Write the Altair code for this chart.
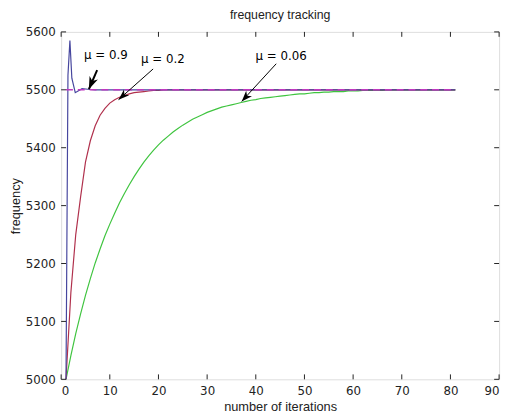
import altair as alt
import pandas as pd

# ---- data ----
iterations = list(range(1, 82))

red_y = [5000, 5150, 5250, 5315, 5375, 5412, 5438, 5456, 5468, 5477,
         5483, 5487, 5490, 5493, 5495, 5496, 5497, 5498, 5499, 5499,
         5500, 5500, 5500, 5500, 5500, 5500, 5500, 5500, 5500, 5500,
         5500, 5500, 5500, 5500, 5500, 5500, 5500, 5500, 5500, 5500,
         5500, 5500, 5500, 5500, 5500, 5500, 5500, 5500, 5500, 5500,
         5500, 5500, 5500, 5500, 5500, 5500, 5500, 5500, 5500, 5500,
         5500, 5500, 5500, 5500, 5500, 5500, 5500, 5500, 5500, 5500,
         5500, 5500, 5500, 5500, 5500, 5500, 5500, 5500, 5500, 5500,
         5500]

green_y = [5000, 5041, 5079, 5113, 5145, 5174, 5201, 5225, 5248, 5268,
           5287, 5305, 5321, 5336, 5350, 5363, 5375, 5386, 5396, 5405,
           5413, 5420, 5427, 5433, 5439, 5444, 5449, 5453, 5457, 5461,
           5464, 5467, 5470, 5472, 5474, 5476, 5478, 5480, 5482, 5483,
           5485, 5486, 5487, 5488, 5489, 5490, 5491, 5492, 5493, 5493,
           5494, 5495, 5495, 5496, 5496, 5497, 5497, 5497, 5498, 5498,
           5498, 5499, 5499, 5499, 5499, 5499, 5500, 5500, 5500, 5500,
           5500, 5500, 5500, 5500, 5500, 5500, 5500, 5500, 5500, 5500,
           5500]

blue_x = [1, 1.4, 1.8, 2.2, 2.9, 4.3, 5.5, 7, 10, 20, 30, 40, 50, 60, 70, 81]
blue_y = [5000, 5525, 5585, 5520, 5495, 5502, 5501, 5500, 5500, 5500,
          5500, 5500, 5500, 5500, 5500, 5500]

ref_x = [1, 81]
ref_y = [5500, 5500]

x_ticks = [0, 10, 20, 30, 40, 50, 60, 70, 80, 90]
y_ticks = [5000, 5100, 5200, 5300, 5400, 5500, 5600]

labels = ["\u03bc = 0.9", "\u03bc = 0.2", "\u03bc = 0.06"]
label_x = [9.2, 20.9, 45.2]
label_y = [5560, 5553, 5559]
arrow_x1 = [7.4, 18.9, 44.2]
arrow_y1 = [5534, 5536, 5545]
arrow_x2 = [5.7, 11.8, 37.1]
arrow_y2 = [5501, 5483, 5480]
arrow_angle = [203, 228, 223]
arrow_width = [2, 1, 1]
head_size = [130, 100, 100]

# ---- tables ----
rows = []
for x, y in zip(iterations, green_y):
    rows.append({"s": "mu006", "x": x, "y": y})
for x, y in zip(iterations, red_y):
    rows.append({"s": "mu02", "x": x, "y": y})
for x, y in zip(blue_x, blue_y):
    rows.append({"s": "mu09", "x": x, "y": y})
lines_df = pd.DataFrame(rows)
ref_df = pd.DataFrame({"x": ref_x, "y": ref_y})
ann_df = pd.DataFrame({"label": labels, "lx": label_x, "ly": label_y,
                       "x1": arrow_x1, "y1": arrow_y1, "x2": arrow_x2,
                       "y2": arrow_y2, "angle": arrow_angle,
                       "w": arrow_width, "hs": head_size})
xt_df = pd.DataFrame({"v": x_ticks})
yt_df = pd.DataFrame({"v": y_ticks})

W, H = 445, 353
xscale = alt.Scale(domain=[0, 90], nice=False, zero=False)
yscale = alt.Scale(domain=[5000, 5600], nice=False, zero=False)

axis_common = dict(grid=False, ticks=False, domain=False,
                   labelFont="DejaVu Sans", labelFontSize=12, labelColor="#222",
                   titleFont="Liberation Sans", titleFontSize=13,
                   titleFontWeight="normal", titleColor="#222")

lines = alt.Chart(lines_df).mark_line(strokeWidth=1.2).encode(
    x=alt.X("x:Q", scale=xscale, title="number of iterations",
            axis=alt.Axis(values=x_ticks, format="d", labelPadding=6,
                          titlePadding=5, **axis_common)),
    y=alt.Y("y:Q", scale=yscale, title="frequency",
            axis=alt.Axis(values=y_ticks, format="d", labelPadding=6,
                          titlePadding=3, **axis_common)),
    color=alt.Color("s:N", legend=None,
                    scale=alt.Scale(domain=["mu006", "mu02", "mu09"],
                                    range=["#3fc43f", "#b0304c", "#46469e"])),
    detail="s:N",
)

ref_line = alt.Chart(ref_df).mark_line(
    color="#c038c0", strokeWidth=1.4, strokeDash=[7, 5]
).encode(x=alt.X("x:Q", scale=xscale), y=alt.Y("y:Q", scale=yscale))

arrows = alt.Chart(ann_df).mark_rule(color="black").encode(
    x=alt.X("x1:Q", scale=xscale), y=alt.Y("y1:Q", scale=yscale),
    x2="x2:Q", y2="y2:Q",
    strokeWidth=alt.StrokeWidth("w:Q", scale=None),
)

heads = alt.Chart(ann_df).mark_point(
    shape="M0,0 L0.8,2.2 L0,1.6 L-0.8,2.2 Z", filled=True, color="black",
    opacity=1
).encode(
    x=alt.X("x2:Q", scale=xscale), y=alt.Y("y2:Q", scale=yscale),
    angle=alt.Angle("angle:Q", scale=None),
    size=alt.Size("hs:Q", scale=None),
)

texts = alt.Chart(ann_df).mark_text(
    font="DejaVu Sans", fontSize=12, color="black", align="center",
    baseline="middle"
).encode(x=alt.X("lx:Q", scale=xscale), y=alt.Y("ly:Q", scale=yscale),
         text="label:N")

tick_color = "#222"
xt_bottom = alt.Chart(xt_df).mark_rule(color=tick_color).encode(
    x=alt.X("v:Q", scale=xscale), y=alt.value(H), y2=alt.value(H - 5))
xt_top = alt.Chart(xt_df).mark_rule(color=tick_color).encode(
    x=alt.X("v:Q", scale=xscale), y=alt.value(0), y2=alt.value(5))
yt_left = alt.Chart(yt_df).mark_rule(color=tick_color).encode(
    y=alt.Y("v:Q", scale=yscale), x=alt.value(0), x2=alt.value(5))
yt_right = alt.Chart(yt_df).mark_rule(color=tick_color).encode(
    y=alt.Y("v:Q", scale=yscale), x=alt.value(W), x2=alt.value(W - 5))

chart = alt.layer(
    lines, ref_line, xt_bottom, xt_top, yt_left, yt_right, arrows, heads, texts
).properties(
    width=W, height=H,
    title=alt.TitleParams("frequency tracking", font="Liberation Sans",
                          fontSize=12.5, fontWeight="normal", color="#222",
                          anchor="middle", offset=5),
    autosize=alt.AutoSizeParams(type="none"),
    padding={"left": 54, "top": 21, "right": 6, "bottom": 35},
).configure_view(stroke="#222", strokeWidth=1).configure(background="white")

chart.save("out.html", embed_options={"renderer": "svg", "actions": False})
